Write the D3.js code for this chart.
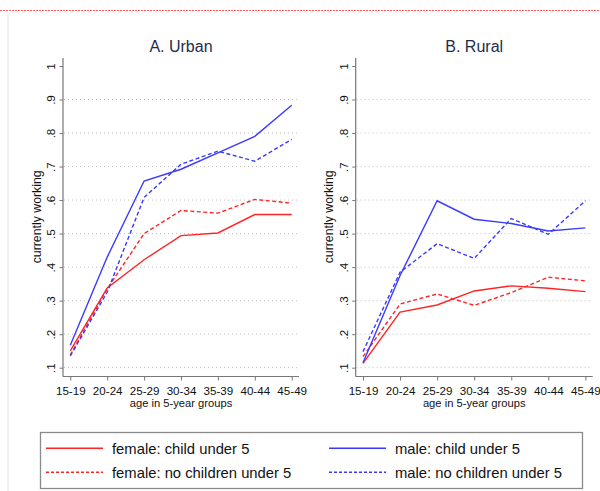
<!DOCTYPE html>
<html><head><meta charset="utf-8">
<script src="https://cdn.jsdelivr.net/npm/d3@7"></script>
<style>
html,body{margin:0;padding:0;background:#fff;}
text{font-family:"Liberation Sans",Arial,Helvetica,sans-serif;}
</style></head>
<body><svg id="c" width="600" height="491"></svg>
<script>
const ages = ["15-19","20-24","25-29","30-34","35-39","40-44","45-49"];
const yTicks = [0.1,0.2,0.3,0.4,0.5,0.6,0.7,0.8,0.9,1];
const yTickLabels = [".1",".2",".3",".4",".5",".6",".7",".8",".9","1"];
const panelTitles = ["A. Urban","B. Rural"];
const seriesNames = ["female: child under 5","female: no children under 5","male: child under 5","male: no children under 5"];

const urbanFemaleChild   = [0.150,0.338,0.422,0.494,0.502,0.557,0.557];
const urbanFemaleNoChild = [0.138,0.335,0.500,0.569,0.561,0.602,0.591];
const urbanMaleChild     = [0.167,0.430,0.657,0.692,0.741,0.790,0.883];
const urbanMaleNoChild   = [0.135,0.325,0.608,0.707,0.746,0.716,0.781];

const ruralFemaleChild   = [0.113,0.266,0.287,0.329,0.344,0.337,0.327];
const ruralFemaleNoChild = [0.133,0.290,0.320,0.286,0.324,0.370,0.359];
const ruralMaleChild     = [0.115,0.375,0.598,0.543,0.530,0.508,0.517];
const ruralMaleNoChild   = [0.148,0.385,0.470,0.426,0.545,0.498,0.598];

const RED = "#ff2424", BLUE = "#3a3aff";
const styles = [
  {color:RED, dash:null},
  {color:RED, dash:"4,2.5"},
  {color:BLUE, dash:null},
  {color:BLUE, dash:"4,2.5"}
];
const panels = [
  {title:panelTitles[0], left:63, right:299, series:[urbanFemaleChild,urbanFemaleNoChild,urbanMaleChild,urbanMaleNoChild]},
  {title:panelTitles[1], left:355.7, right:592.7, series:[ruralFemaleChild,ruralFemaleNoChild,ruralMaleChild,ruralMaleNoChild]}
];

const svg = d3.select("#c");
svg.append("line").attr("x1",0).attr("x2",600).attr("y1",10.5).attr("y2",10.5)
  .attr("stroke","#ff5a5a").attr("stroke-width",1).attr("stroke-dasharray","2,1");
svg.append("line").attr("x1",8).attr("x2",8).attr("y1",13).attr("y2",491)
  .attr("stroke","#e4e4e4").attr("stroke-width",1);

const yTop = 58, yAxisPos = 376.5;
panels.forEach(p => {
  const g = svg.append("g");
  const x = d3.scalePoint().domain(ages).range([p.left+7.3, p.right-7.3]);
  const y = d3.scaleLinear().domain([0.1,1]).range([367.7,66]);
  g.selectAll(".grid").data(yTicks.filter(v=>v<1)).enter().append("line")
    .attr("x1",p.left+1).attr("x2",p.right).attr("y1",d=>y(d)).attr("y2",d=>y(d))
    .attr("stroke","#bdbdbd").attr("stroke-width",1).attr("stroke-dasharray","1,3");
  const ya = g.append("g").attr("transform",`translate(${p.left},0)`)
    .call(d3.axisLeft(y).tickValues(yTicks).tickSize(3.5).tickFormat((d,i)=>yTickLabels[i]));
  ya.select(".domain").remove();
  ya.selectAll(".tick line").attr("stroke","#777");
  ya.selectAll(".tick text").attr("transform","rotate(-90)").attr("x",0).attr("y",-8)
    .attr("dy",0).attr("text-anchor","middle").style("font-size","11.6px").attr("fill","#111");
  g.append("line").attr("x1",p.left).attr("x2",p.left).attr("y1",yTop).attr("y2",yAxisPos)
    .attr("stroke","#777").attr("stroke-width",1.2);
  const xa = g.append("g").attr("transform",`translate(0,${yAxisPos})`)
    .call(d3.axisBottom(x).tickSize(4));
  xa.select(".domain").remove();
  xa.selectAll(".tick line").attr("stroke","#777");
  xa.selectAll(".tick text").attr("y",18.5).attr("dy",0).style("font-size","11.6px").attr("fill","#111");
  g.append("line").attr("x1",p.left).attr("x2",p.right).attr("y1",yAxisPos).attr("y2",yAxisPos)
    .attr("stroke","#777").attr("stroke-width",1.2);
  const cx = (p.left+p.right)/2;
  g.append("text").attr("x",cx).attr("y",51.5).attr("text-anchor","middle")
    .style("font-size","16px").attr("fill","#1e2d4f").text(p.title);
  g.append("text").attr("x",cx).attr("y",406.5).attr("text-anchor","middle")
    .style("font-size","11.2px").attr("fill","#111").text("age in 5-year groups");
  g.append("text").attr("transform",`translate(${p.left-22.5},${(y(0.1)+y(1))/2}) rotate(-90)`)
    .attr("text-anchor","middle").style("font-size","12.3px").attr("fill","#111").text("currently working");
  const line = d3.line().x((d,i)=>x(ages[i])).y(d=>y(d));
  p.series.forEach((s,k) => {
    g.append("path").datum(s).attr("d",line).attr("fill","none")
      .attr("stroke",styles[k].color).attr("stroke-width",1.4)
      .attr("stroke-dasharray",styles[k].dash);
  });
});

const lg = svg.append("g");
lg.append("rect").attr("x",40.5).attr("y",432.5).attr("width",542).attr("height",56)
  .attr("fill","#fff").attr("stroke","#8a8a8a").attr("stroke-width",1.3);
const legPos = [[46,448.3],[46,472.3],[329,448.3],[329,472.3]];
seriesNames.forEach((n,k) => {
  const [lx,ly] = legPos[k];
  lg.append("line").attr("x1",lx).attr("x2",lx+57).attr("y1",ly).attr("y2",ly)
    .attr("stroke",styles[k].color).attr("stroke-width",1.4)
    .attr("stroke-dasharray",styles[k].dash?"3,2":null);
  lg.append("text").attr("x",lx+66).attr("y",ly+5.3).style("font-size","14.8px")
    .attr("fill","#111").text(n);
});
</script></body></html>
